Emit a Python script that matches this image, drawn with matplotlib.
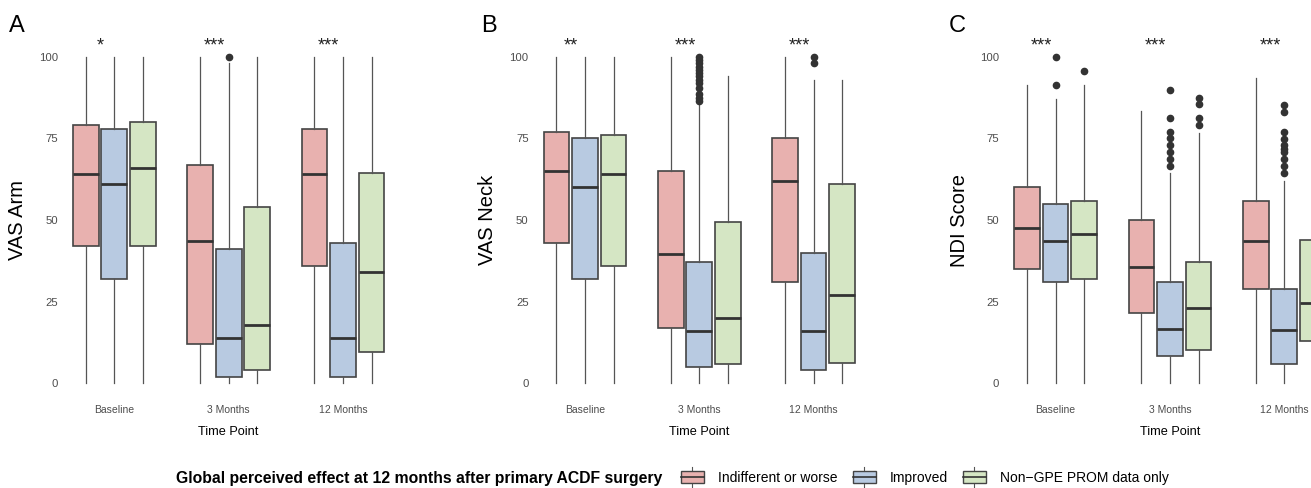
import matplotlib.pyplot as plt
from matplotlib.patches import Patch, Rectangle
from matplotlib.lines import Line2D
from matplotlib.legend_handler import HandlerBase

plt.rcParams['font.family'] = ['Liberation Sans', 'DejaVu Sans']

# data, order per panel:
# Baseline (R, B, G), 3 Months (R, B, G), 12 Months (R, B, G)
time_points = ["Baseline", "3 Months", "12 Months"]
groups = ["Indifferent or worse", "Improved", "Non\u2212GPE PROM data only"]
colors = ["#E8B1AF", "#B8CAE1", "#D5E6C4"]

arm_q1 = [42, 32, 42, 12, 2, 4, 36, 2, 9.5]
arm_med = [64, 61, 66, 43.5, 14, 18, 64, 14, 34]
arm_q3 = [79, 78, 80, 67, 41, 54, 78, 43, 64.5]
arm_lo = [0, 0, 0, 0, 0, 0, 0, 0, 0]
arm_hi = [100, 100, 100, 100, 98, 100, 100, 100, 100]
arm_fliers = [[], [], [], [], [100], [], [], [], []]
arm_stars = ["*", "***", "***"]

neck_q1 = [43, 32, 36, 17, 5, 6, 31, 4, 6.2]
neck_med = [65, 60, 64, 39.5, 16, 20, 62, 16, 27]
neck_q3 = [77, 75, 76, 65, 37, 49.5, 75, 40, 61]
neck_lo = [0, 0, 0, 0, 0, 0, 0, 0, 0]
neck_hi = [100, 100, 100, 100, 85.5, 94, 100, 93, 93]
neck_fliers = [[], [], [], [],
               [86.5, 87.5, 88.5, 90.5, 92, 93, 94, 95, 96, 97, 98, 99, 100],
               [], [], [98, 100], []]
neck_stars = ["**", "***", "***"]

ndi_q1 = [35, 31, 32, 21.4, 8.3, 10.3, 29, 6, 13.1]
ndi_med = [47.7, 43.6, 45.6, 35.5, 16.6, 23, 43.6, 16.4, 24.7]
ndi_q3 = [60.2, 54.9, 55.9, 50, 31.1, 37.3, 55.9, 28.8, 43.9]
ndi_lo = [0, 0, 0, 0, 0, 0, 0, 0, 0]
ndi_hi = [91.5, 87.1, 91.5, 83.4, 64.5, 76.8, 93.4, 62.1, 95]
ndi_fliers = [[], [91.5, 100], [95.6], [],
              [66.7, 68.8, 70.9, 73, 75.1, 77.1, 81.3, 89.7],
              [79.1, 81.2, 85.4, 87.5], [],
              [64.4, 66.5, 68.7, 70.8, 71.8, 72.9, 74.9, 76.9, 83.2, 85.3], []]
ndi_stars = ["***", "***", "***"]

panels = [
    ("A", "VAS Arm", arm_q1, arm_med, arm_q3, arm_lo, arm_hi, arm_fliers, arm_stars),
    ("B", "VAS Neck", neck_q1, neck_med, neck_q3, neck_lo, neck_hi, neck_fliers, neck_stars),
    ("C", "NDI Score", ndi_q1, ndi_med, ndi_q3, ndi_lo, ndi_hi, ndi_fliers, ndi_stars),
]

W, H = 1311, 488
fig = plt.figure(figsize=(W / 100, H / 100), dpi=100)

lefts = [62.9, 533.5, 1004.2]
letter_x = [9, 480.7, 949]
ylab_x = [-0.108, -0.110, -0.106]
offsets = [-0.25, 0, 0.25]
edge = "#444444"


def draw_panel(ax, q1, med, q3, lo, hi, fliers, stars):
    stats = []
    positions = []
    for i in range(len(time_points)):
        for j in range(len(groups)):
            k = i * 3 + j
            stats.append(dict(med=med[k], q1=q1[k], q3=q3[k],
                              whislo=lo[k], whishi=hi[k], fliers=fliers[k]))
            positions.append(i + 1 + offsets[j])
    bp = ax.bxp(stats, positions=positions, widths=0.225, patch_artist=True,
                showcaps=False,
                boxprops=dict(edgecolor=edge, linewidth=1.2),
                medianprops=dict(color="#333333", linewidth=2),
                whiskerprops=dict(color="#555555", linewidth=0.9),
                flierprops=dict(marker="o", markersize=4.5, markerfacecolor="#333333",
                                markeredgecolor="#333333"))
    for k, box in enumerate(bp["boxes"]):
        box.set_facecolor(colors[k % 3])
    for i, s in enumerate(stars):
        ax.text(i + 1 - 0.125, 102, s, ha="center", va="baseline",
                fontsize=13, color="#222222", clip_on=False)


for p, (letter, ylab, q1, med, q3, lo, hi, fl, st) in enumerate(panels):
    ax = fig.add_axes([lefts[p] / W, 0.1811, 331.5 / W, 0.736])
    draw_panel(ax, q1, med, q3, lo, hi, fl, st)
    ax.set_xlim(0.55, 3.45)
    ax.set_ylim(-5, 105)
    ax.set_xticks([1, 2, 3])
    ax.set_xticklabels(time_points, fontsize=7.5, color="#4d4d4d")
    ax.set_yticks([0, 25, 50, 75, 100])
    ax.set_yticklabels(["0", "25", "50", "75", "100"], fontsize=8.2, color="#4d4d4d")
    ax.tick_params(length=0)
    ax.tick_params(axis="x", pad=4)
    ax.tick_params(axis="y", pad=3.5)
    for sp in ax.spines.values():
        sp.set_visible(False)
    ax.set_xlabel("Time Point", fontsize=9.2, labelpad=8)
    ax.set_ylabel(ylab, fontsize=14.5)
    ax.yaxis.set_label_coords(ylab_x[p], 0.5)
    fig.text(letter_x[p] / W, (H - 32) / H, letter, fontsize=17, va="baseline")


class BoxKey(HandlerBase):
    def create_artists(self, legend, orig_handle, xdescent, ydescent,
                       width, height, fontsize, trans):
        x0, y0 = -xdescent, -ydescent
        cx = x0 + width / 2
        box = Rectangle((x0, y0), width, height, facecolor=orig_handle.get_facecolor(),
                        edgecolor=edge, linewidth=1, transform=trans)
        mid = Line2D([x0, x0 + width], [y0 + height / 2] * 2, color="#333333",
                     linewidth=1.2, transform=trans)
        top = Line2D([cx, cx], [y0 + height, y0 + height + 3], color="#555555",
                     linewidth=0.8, transform=trans)
        bot = Line2D([cx, cx], [y0, y0 - 3], color="#555555",
                     linewidth=0.8, transform=trans)
        return [top, bot, box, mid]


handles = [Patch(facecolor=c) for c in colors]
leg_y = (H - 478) / H
fig.legend(handles, groups, loc="center left", bbox_to_anchor=(681 / W, leg_y),
           ncol=3, frameon=False, borderpad=0, borderaxespad=0,
           handler_map={Patch: BoxKey()}, handlelength=1.65, handleheight=1.0,
           handletextpad=1.0, columnspacing=1.1, fontsize=10)
fig.text(662 / W, leg_y, "Global perceived effect at 12 months after primary ACDF surgery",
         ha="right", va="center", fontsize=11.3, fontweight="bold")

fig.savefig("out.png", dpi=100)
